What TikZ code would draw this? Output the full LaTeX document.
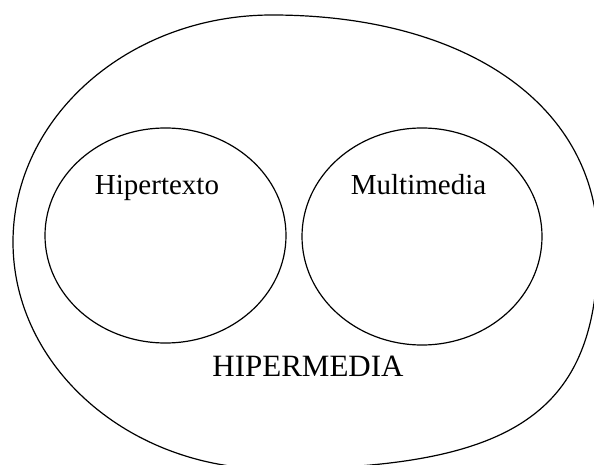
\documentclass[tikz,border=0pt]{standalone}
\usepackage{fontspec}
\setmainfont{Liberation Serif}
\usetikzlibrary{shapes.geometric}
\begin{document}
\begin{tikzpicture}[x=1pt,y=1pt,line width=1.2pt,
  region/.style={draw, ellipse, inner sep=0pt},
  lbl/.style={anchor=base, inner sep=0pt, font=\fontsize{29}{34}\selectfont},
  biglbl/.style={anchor=base, inner sep=0pt, font=\fontsize{31}{36}\selectfont}]
\useasboundingbox (0,0) rectangle (594,464);
\begin{scope}
\clip (0,0) rectangle (594,464);
\draw (272,449) .. controls (129,449) and (13,347) .. (13,222)
  .. controls (13,97) and (129,-5) .. (272,-5)
  .. controls (516,-5) and (598,52) .. (598,218)
  .. controls (598,358) and (467,449) .. (272,449) -- cycle;
\end{scope}
\node[region, minimum width=241pt, minimum height=215pt] (hiper) at (165.5,228.5) {};
\node[region, minimum width=240pt, minimum height=217pt] (multi) at (422,227.5) {};
\node[lbl] (thiper) at (157,269) {Hipertexto};
\node[lbl] (tmulti) at (418.5,269) {Multimedia};
\node[biglbl] (tall) at (308,88) {HIPERMEDIA};
\end{tikzpicture}
\end{document}
